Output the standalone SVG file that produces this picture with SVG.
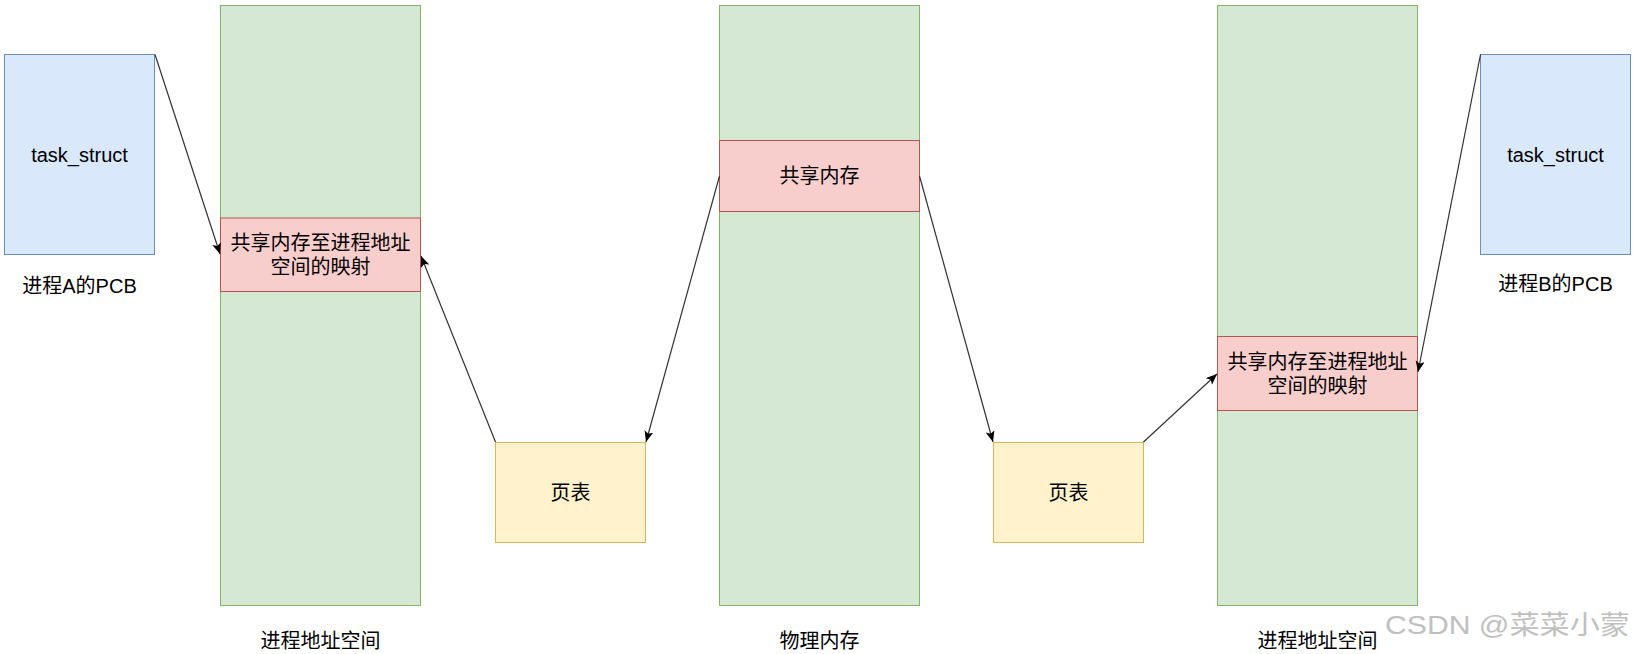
<svg xmlns="http://www.w3.org/2000/svg" width="1633" height="654" viewBox="0 0 1633 654">
<style>
  text { font-family: "Liberation Sans", "Noto Sans CJK SC", sans-serif; font-size: 20px; fill: #000; text-anchor: middle; dominant-baseline: central; }
  .blue { fill: #dae8fc; stroke: #6c8ebf; stroke-width: 1; }
  .green { fill: #d5e8d4; stroke: #82b366; stroke-width: 1; }
  .red { fill: #f8cecc; stroke: #b85450; stroke-width: 1; }
  .yellow { fill: #fff2cc; stroke: #d6b656; stroke-width: 1; }
  .edge { fill: none; stroke: #333; stroke-width: 1.2; marker-end: url(#arrow); }
  .wm { fill: #c0c0c0; font-size: 26px; text-anchor: start; }
</style>
<defs>
  <marker id="arrow" markerUnits="userSpaceOnUse" markerWidth="12" markerHeight="10" refX="11" refY="4.5" orient="auto">
    <path d="M0,0 L11,4.5 L0,9 L2.5,4.5 Z" fill="#000"/>
  </marker>
</defs>
<rect width="1633" height="654" fill="#fff"/>

<g id="pcbA">
  <rect class="blue" x="4.5" y="54.5" width="150" height="200"/>
  <text x="79.5" y="155">task_struct</text>
  <text x="79.5" y="286">进程A的PCB</text>
</g>

<g id="vasA">
  <rect class="green" x="220.5" y="5.5" width="200" height="600"/>
  <text x="320.5" y="641">进程地址空间</text>
</g>
<g id="mapA">
  <rect class="red" x="220.5" y="218" width="200" height="73.5"/>
  <text x="320.5" y="243">共享内存至进程地址</text>
  <text x="320.5" y="267">空间的映射</text>
</g>

<g id="ptA">
  <rect class="yellow" x="495.5" y="442.5" width="150" height="100"/>
  <text x="570.5" y="492.5">页表</text>
</g>

<g id="phys">
  <rect class="green" x="719.5" y="5.5" width="200" height="600"/>
  <text x="819.5" y="641">物理内存</text>
</g>
<g id="shm">
  <rect class="red" x="719.5" y="140.5" width="200" height="71"/>
  <text x="819.5" y="176">共享内存</text>
</g>

<g id="ptB">
  <rect class="yellow" x="993.5" y="442.5" width="150" height="100"/>
  <text x="1068.5" y="492.5">页表</text>
</g>

<g id="vasB">
  <rect class="green" x="1217.5" y="5.5" width="200" height="600"/>
  <text x="1317.5" y="641">进程地址空间</text>
</g>
<g id="mapB">
  <rect class="red" x="1217.5" y="336.5" width="200" height="74"/>
  <text x="1317.5" y="362">共享内存至进程地址</text>
  <text x="1317.5" y="386">空间的映射</text>
</g>

<g id="pcbB">
  <rect class="blue" x="1480.5" y="54.5" width="150" height="200"/>
  <text x="1555.5" y="155">task_struct</text>
  <text x="1555.5" y="284">进程B的PCB</text>
</g>

<g id="connectors">
  <line class="edge" x1="155" y1="54.5" x2="220" y2="254"/>
  <line class="edge" x1="495.5" y1="442" x2="421" y2="256"/>
  <line class="edge" x1="719.5" y1="176" x2="646" y2="442"/>
  <line class="edge" x1="919.5" y1="176" x2="993" y2="442"/>
  <line class="edge" x1="1143.5" y1="442" x2="1217" y2="374"/>
  <line class="edge" x1="1480.5" y1="54.5" x2="1418" y2="372"/>
</g>

<text class="wm" x="1385" y="625" textLength="245" lengthAdjust="spacingAndGlyphs">CSDN @菜菜小蒙</text>
</svg>
